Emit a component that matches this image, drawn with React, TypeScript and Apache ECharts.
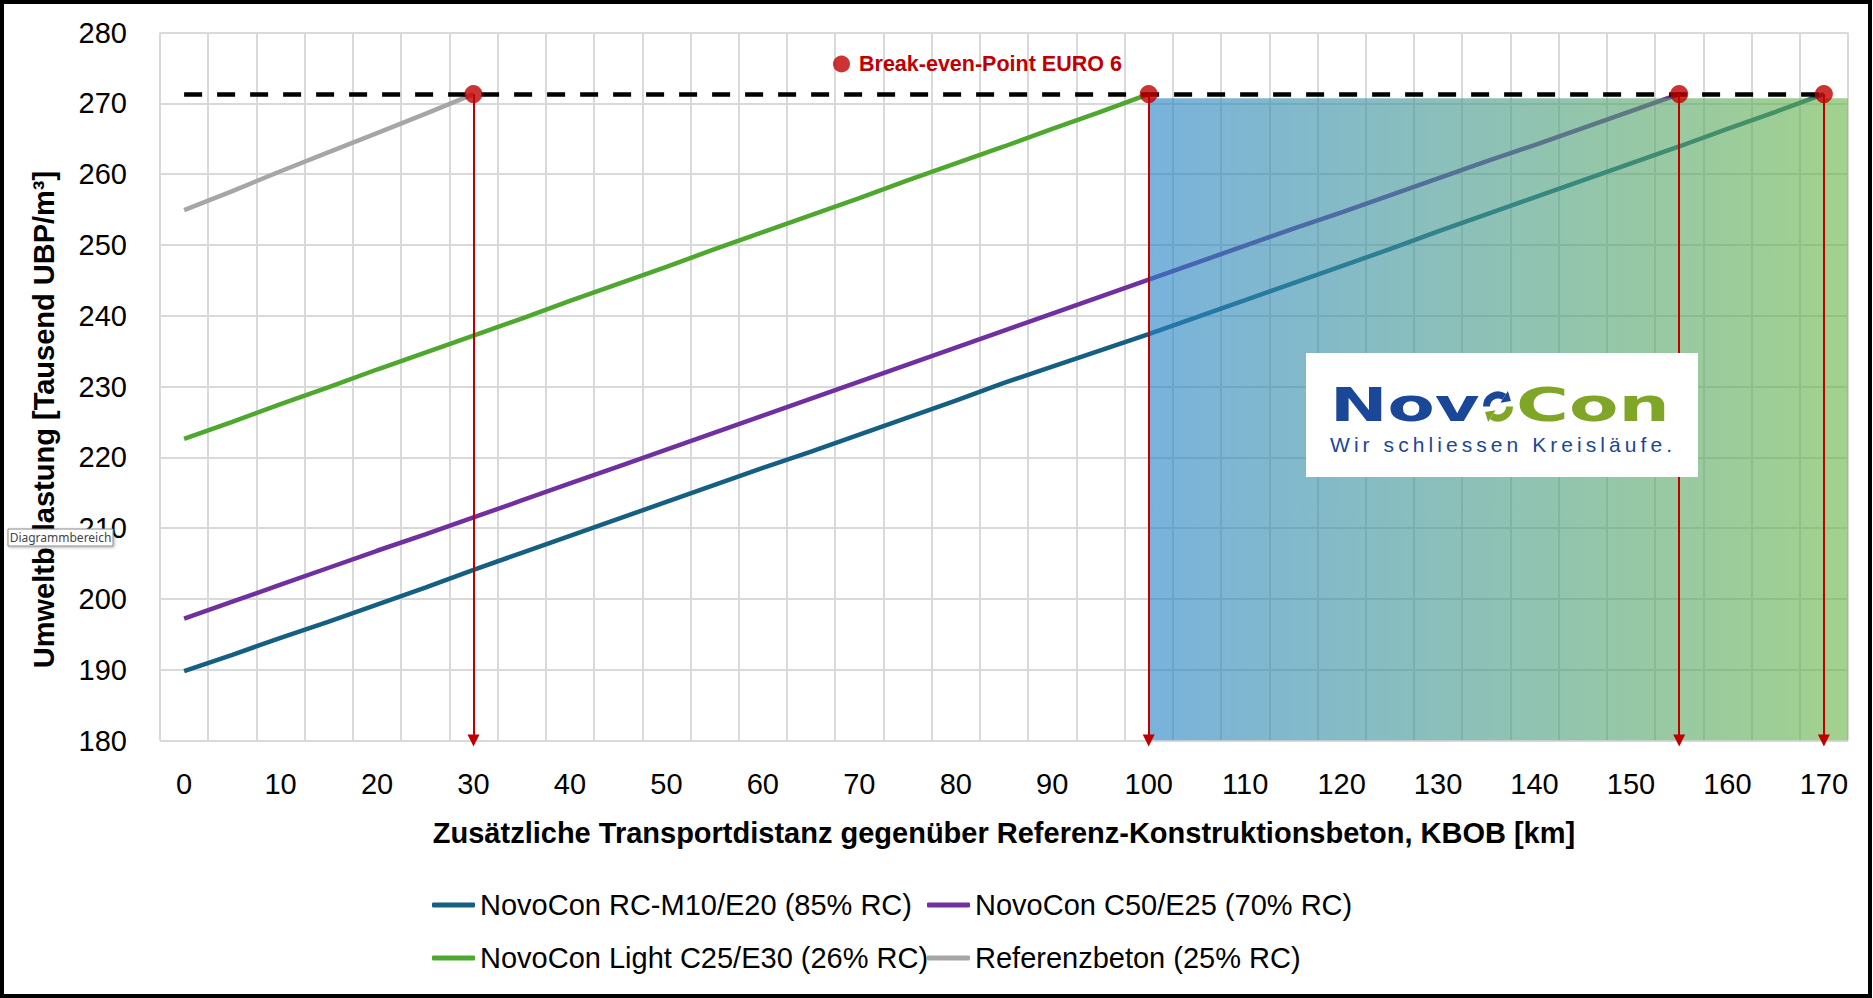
import React, { useEffect, useRef } from "react";
import * as echarts from "echarts";

// ---------- data ----------
const kmCategories = [
  "0", "5", "10", "15", "20", "25", "30", "35", "40", "45", "50", "55",
  "60", "65", "70", "75", "80", "85", "90", "95", "100", "105", "110", "115",
  "120", "125", "130", "135", "140", "145", "150", "155", "160", "165", "170",
];

const rcM10Values = [
  189.8, 192.1, 194.5, 196.8, 199.2, 201.6, 204.1, 206.5, 208.9, 211.3, 213.7, 216.1,
  218.5, 220.8, 223.2, 225.6, 228.0, 230.5, 232.8, 235.1, 237.4, 239.8, 242.2, 244.6,
  247.0, 249.4, 251.9, 254.3, 256.7, 259.1, 261.5, 263.9, 266.4, 268.8, 271.3,
];

const c50Values = [
  197.2, 199.6, 202.0, 204.4, 206.8, 209.1, 211.5, 213.9, 216.3, 218.7, 221.1, 223.5,
  225.9, 228.3, 230.7, 233.1, 235.5, 237.9, 240.3, 242.7, 245.1, 247.5, 249.9, 252.3,
  254.6, 257.0, 259.4, 261.8, 264.1, 266.5, 268.9, 271.3, null, null, null,
];

const lightValues = [
  222.6, 225.0, 227.5, 229.9, 232.4, 234.8, 237.2, 239.6, 242.1, 244.5, 246.9, 249.4,
  251.8, 254.2, 256.6, 259.1, 261.5, 263.9, 266.4, 268.8, 271.3, null, null, null,
  null, null, null, null, null, null, null, null, null, null, null,
];

const referenzValues = [
  254.9, 257.6, 260.4, 263.1, 265.8, 268.5, 271.3, null, null, null, null, null,
  null, null, null, null, null, null, null, null, null, null, null, null,
  null, null, null, null, null, null, null, null, null, null, null,
];

const breakEvenKm = ["30", "100", "155", "170"];
const breakEvenLevel = 271.3;
const dashedFromKm = "0";
const dashedToKm = "170";

// shaded region (km on a hidden value axis spanning the category band)
const shadeKm = [100, 172.5];
const shadeTop = 270.7;
const kmBand = [-2.5, 172.5];

const yMin = 180;
const yMax = 280;
const yStep = 10;

const seriesNames = [
  "NovoCon RC-M10/E20 (85% RC)",
  "NovoCon C50/E25 (70% RC)",
  "NovoCon Light C25/E30 (26% RC)",
  "Referenzbeton (25% RC)",
];
const breakEvenName = "Break-even-Point EURO 6";

const FONT = "'Liberation Sans', Arial, sans-serif";

function spacedText(
  str: string,
  x0: number,
  y: number,
  font: string,
  targetWidth: number,
  color: string
) {
  const ctx = document.createElement("canvas").getContext("2d")!;
  ctx.font = font;
  const widths = str.split("").map((c) => ctx.measureText(c).width);
  const total = widths.reduce((a, b) => a + b, 0);
  const gap = (targetWidth - total) / (str.length - 1);
  const out: any[] = [];
  let x = x0;
  str.split("").forEach((c, i) => {
    if (c !== " ") {
      out.push({
        type: "text",
        x,
        y,
        z: 101,
        style: { text: c, font, fill: color, align: "left", verticalAlign: "middle" },
      });
    }
    x += widths[i] + gap;
  });
  return out;
}

function arrowHead(cx: number, cy: number, r: number, ang: number, color: string) {
  const px = cx + r * Math.cos(ang);
  const py = cy + r * Math.sin(ang);
  const tx = -Math.sin(ang);
  const ty = Math.cos(ang);
  const nx = Math.cos(ang);
  const ny = Math.sin(ang);
  return {
    type: "polygon",
    z: 101,
    shape: {
      points: [
        [px + 8 * tx, py + 8 * ty],
        [px + 7 * nx, py + 7 * ny],
        [px - 7 * nx, py - 7 * ny],
      ],
    },
    style: { fill: color },
  };
}

export default function App() {
  const ref = useRef<HTMLDivElement>(null);

  useEffect(() => {
    document.body.style.margin = "0";
    if (!ref.current) return;
    const chart = echarts.init(ref.current, null, { renderer: "svg" });

    const blue = "#1A4797";
    const green = "#7FA626";
    const rcx = 1498;
    const rcy = 406.5;
    const rr = 11.5;

    const logo = [
      {
        type: "rect",
        z: 100,
        shape: { x: 1306, y: 353, width: 392, height: 124 },
        style: { fill: "#ffffff" },
      },
      {
        type: "text",
        x: 1330,
        y: 405,
        scaleX: 1.48,
        z: 101,
        style: {
          text: "Nov",
          font: "bold 46.5px 'DejaVu Sans'",
          fill: blue,
          align: "left",
          verticalAlign: "middle",
        },
      },
      {
        type: "arc",
        z: 101,
        shape: { cx: rcx, cy: rcy, r: rr, startAngle: Math.PI, endAngle: 1.68 * Math.PI, clockwise: true },
        style: { stroke: blue, lineWidth: 7, fill: "none" },
      },
      arrowHead(rcx, rcy, rr, 1.68 * Math.PI, blue),
      {
        type: "arc",
        z: 101,
        shape: { cx: rcx, cy: rcy, r: rr, startAngle: 0, endAngle: 0.68 * Math.PI, clockwise: true },
        style: { stroke: green, lineWidth: 7, fill: "none" },
      },
      arrowHead(rcx, rcy, rr, 0.68 * Math.PI, green),
      {
        type: "text",
        x: 1516,
        y: 405,
        scaleX: 1.55,
        z: 101,
        style: {
          text: "Con",
          font: "bold 46.5px 'DejaVu Sans'",
          fill: green,
          align: "left",
          verticalAlign: "middle",
        },
      },
      ...spacedText("Wir schliessen Kreisläufe.", 1330, 444, "21px 'Liberation Sans'", 342, blue),
    ];

    const commonLegend = {
      icon: "roundRect",
      itemWidth: 43,
      itemHeight: 5,
      padding: 0,
      selectedMode: false,
      textStyle: { fontSize: 29, color: "#000", fontFamily: FONT, lineHeight: 34 },
    };

    const lineSeries = (name: string, data: (number | null)[], color: string) => ({
      name,
      type: "line",
      data,
      color,
      symbol: "none",
      showSymbol: false,
      silent: true,
      z: 2,
      lineStyle: { width: 4.5, color },
    });

    const option: any = {
      animation: false,
      backgroundColor: "#ffffff",
      grid: { left: 160, top: 32.5, width: 1688, height: 708 },
      xAxis: [
        {
          type: "category",
          data: kmCategories,
          boundaryGap: true,
          axisLine: { show: false },
          axisTick: { show: false },
          axisLabel: { interval: 1, fontSize: 29, color: "#000", fontFamily: FONT, margin: 29 },
          splitLine: { show: true, interval: 0, lineStyle: { color: "#D9D9D9", width: 2 } },
          name: "Zusätzliche Transportdistanz gegenüber Referenz-Konstruktionsbeton, KBOB [km]",
          nameLocation: "middle",
          nameGap: 78,
          nameTextStyle: { fontSize: 29, fontWeight: "bold", color: "#000", fontFamily: FONT },
        },
        { type: "value", min: kmBand[0], max: kmBand[1], show: false },
      ],
      yAxis: {
        type: "value",
        min: yMin,
        max: yMax,
        interval: yStep,
        axisLine: { show: false },
        axisTick: { show: false },
        axisLabel: { fontSize: 29, color: "#000", fontFamily: FONT, margin: 33 },
        splitLine: { lineStyle: { color: "#D9D9D9", width: 2 } },
        name: "Umweltbelastung [Tausend UBP/m³]",
        nameLocation: "middle",
        nameGap: 102,
        nameTextStyle: {
          fontSize: 29,
          fontWeight: "bold",
          color: "#000",
          fontFamily: FONT,
          padding: [0, 66, 0, 0],
        },
      },
      legend: [
        { ...commonLegend, data: [seriesNames[0]], left: 432, top: 888 },
        { ...commonLegend, data: [seriesNames[1]], left: 927, top: 888 },
        { ...commonLegend, data: [seriesNames[2]], left: 432, top: 941 },
        { ...commonLegend, data: [seriesNames[3]], left: 927, top: 941 },
        {
          data: [breakEvenName],
          left: 833,
          top: 52,
          padding: 0,
          selectedMode: false,
          icon: "circle",
          itemWidth: 17,
          itemHeight: 17,
          textStyle: {
            fontSize: 21.5,
            fontWeight: "bold",
            color: "#C00000",
            fontFamily: FONT,
            lineHeight: 24,
            padding: [0, 0, 0, 4],
          },
        },
      ],
      series: [
        lineSeries(seriesNames[0], rcM10Values, "#156082"),
        lineSeries(seriesNames[1], c50Values, "#7030A0"),
        lineSeries(seriesNames[2], lightValues, "#4EA72E"),
        lineSeries(seriesNames[3], referenzValues, "#A6A6A6"),
        {
          name: "Bereich",
          type: "line",
          xAxisIndex: 1,
          data: [
            [shadeKm[0], shadeTop],
            [shadeKm[1], shadeTop],
          ],
          symbol: "none",
          silent: true,
          z: 3,
          lineStyle: { width: 0 },
          areaStyle: {
            origin: "start",
            opacity: 0.62,
            color: new echarts.graphic.LinearGradient(0, 0, 1, 0, [
              { offset: 0, color: "#2783C6" },
              { offset: 1, color: "#6AB548" },
            ]),
          },
        },
        {
          name: breakEvenName,
          type: "scatter",
          data: breakEvenKm.map((k) => [k, breakEvenLevel]),
          symbolSize: 18,
          itemStyle: { color: "#C00000" },
          z: 6,
          silent: true,
          markLine: {
            z: 5,
            silent: true,
            animation: false,
            label: { show: false },
            symbol: ["none", "none"],
            data: [
              [
                { coord: [dashedFromKm, breakEvenLevel], symbol: "none" },
                {
                  coord: [dashedToKm, breakEvenLevel],
                  symbol: "none",
                  lineStyle: { color: "#000", width: 4.5, type: [18, 15] },
                },
              ],
              ...breakEvenKm.map((k) => [
                { coord: [k, breakEvenLevel], symbol: "none" },
                {
                  coord: [k, yMin],
                  symbol: "triangle",
                  symbolSize: [12, 12],
                  lineStyle: { color: "#C00000", width: 2, type: "solid" },
                },
              ]),
            ],
          },
        },
      ],
      graphic: [
        ...logo,
        {
          type: "group",
          z: 110,
          children: [
            {
              type: "rect",
              z: 110,
              shape: { x: 8, y: 529, width: 105, height: 17 },
              style: {
                fill: "#ffffff",
                stroke: "#8C8C8C",
                lineWidth: 1,
                shadowBlur: 3,
                shadowOffsetX: 1,
                shadowOffsetY: 1,
                shadowColor: "rgba(0,0,0,0.3)",
              },
            },
            {
              type: "text",
              z: 111,
              x: 60.5,
              y: 537.5,
              style: {
                text: "Diagrammbereich",
                font: "12px 'Noto Sans'",
                fill: "#444444",
                align: "center",
                verticalAlign: "middle",
              },
            },
          ],
        },
        {
          type: "rect",
          z: 120,
          shape: { x: 2, y: 2, width: 1868, height: 994 },
          style: { fill: "none", stroke: "#000", lineWidth: 4 },
        },
      ],
    };

    chart.setOption(option);
    return () => chart.dispose();
  }, []);

  return <div ref={ref} style={{ width: 1873, height: 998 }} />;
}
